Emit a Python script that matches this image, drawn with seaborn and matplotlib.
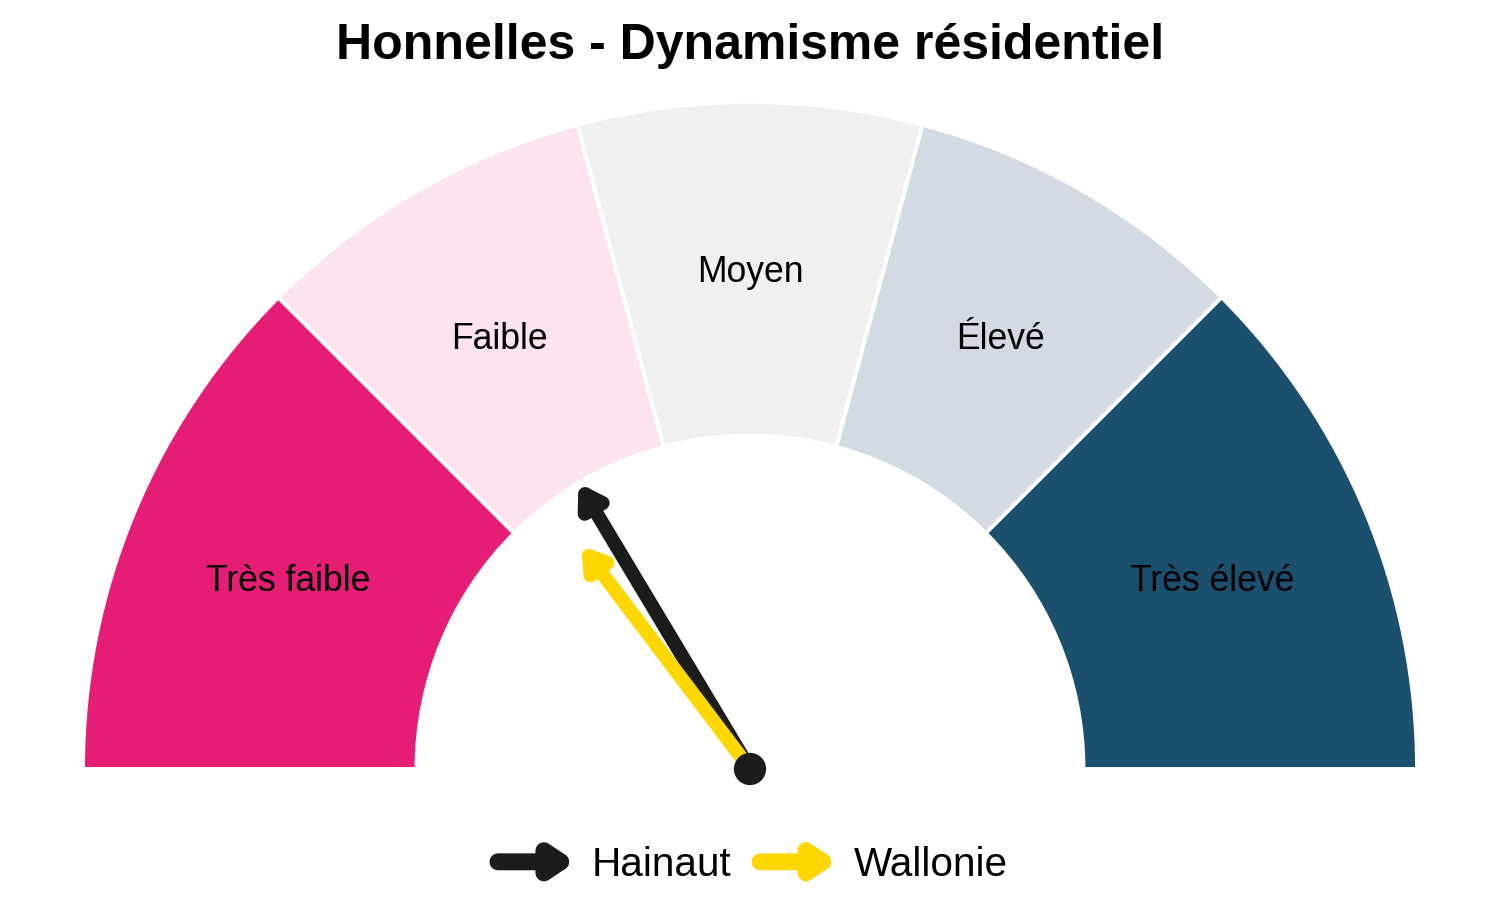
import numpy as np
import pandas as pd
import matplotlib
matplotlib.use("Agg")
import matplotlib.pyplot as plt
from matplotlib.patches import Wedge, FancyArrowPatch
from matplotlib.legend_handler import HandlerPatch
import seaborn as sns

# ---------------- data ----------------
title = "Honnelles - Dynamisme résidentiel"
categories = ["Très faible", "Faible", "Moyen", "Élevé", "Très élevé"]
category_limits = [0.0, 0.25, 0.4167, 0.5833, 0.75, 1.0]   # gauge scale 0..1 (left -> right)
category_colors = ["#E61D75", "#FBE3EF", "#F0F0F0", "#D3DAE3", "#1A4F6D"]
series = ["Hainaut", "Wallonie"]
series_values = [0.328, 0.294]
series_colors = ["#1C1C1C", "#FFD700"]

# ---------------- style ----------------
sns.set_theme(style="white")
plt.rcParams["font.family"] = ["Liberation Sans", "DejaVu Sans"]
plt.rcParams["text.color"] = "black"

fig = plt.figure(figsize=(7.5, 4.5), dpi=200)
ax = fig.add_axes([0, 0, 1, 1])
R_PX = 667.0
XLIM = (-750 / R_PX, 750 / R_PX)
YLIM = (-(900 - 769) / R_PX, 769 / R_PX)
ax.set_xlim(*XLIM)
ax.set_ylim(*YLIM)
ax.axis("off")

R_OUT, R_IN = 1.0, 0.5


def val2deg(v):
    return 180.0 * (1.0 - v)


df = pd.DataFrame({"cat": categories,
                   "lo": category_limits[:-1],
                   "hi": category_limits[1:],
                   "color": category_colors})

for _, row in df.iterrows():
    t1, t2 = val2deg(row["hi"]), val2deg(row["lo"])
    ax.add_patch(Wedge((0, 0), R_OUT, t1, t2, width=R_OUT - R_IN,
                       facecolor=row["color"], edgecolor="white", lw=1.4, zorder=1))
    mid = np.deg2rad((t1 + t2) / 2)
    rm = (R_OUT + R_IN) / 2
    ax.text(rm * np.cos(mid), rm * np.sin(mid), row["cat"], ha="center",
            va="center_baseline", fontsize=12.8, color="black", zorder=2)

needle_len = [0.5, 0.42]
for name, v, c, L in zip(series, series_values, series_colors, needle_len):
    a = np.deg2rad(val2deg(v))
    arr = FancyArrowPatch((0, 0), (L * np.cos(a), L * np.sin(a)),
                          arrowstyle="-|>,head_length=0.6,head_width=0.38",
                          mutation_scale=10, lw=5.0, color=c,
                          capstyle="round", joinstyle="round",
                          shrinkA=0, shrinkB=0, zorder=3, label=name)
    ax.add_patch(arr)

sns.scatterplot(x=[0.0], y=[0.0], s=135, color="#1C1C1C", edgecolor="none",
                ax=ax, zorder=5, legend=False)
ax.set_xlim(*XLIM)
ax.set_ylim(*YLIM)

fig.text(0.5, 1 - 59 / 900, title, ha="center", va="baseline",
         fontsize=18, fontweight="bold", color="black")


class HandlerArrow(HandlerPatch):
    def create_artists(self, legend, orig_handle, xdescent, ydescent,
                       width, height, fontsize, trans):
        y = -ydescent + height / 2
        lw = 6.1
        p = FancyArrowPatch((-xdescent + lw / 2 - 1.0, y),
                            (-xdescent + width - lw / 2 + 5.4, y),
                            arrowstyle="-|>,head_length=0.6,head_width=0.4",
                            mutation_scale=10, lw=lw,
                            color=orig_handle.get_edgecolor(),
                            capstyle="round", joinstyle="round",
                            shrinkA=0, shrinkB=0)
        p.set_transform(trans)
        return [p]


handles = [FancyArrowPatch((0, 0), (1, 0), color=c, label=n)
           for n, c in zip(series, series_colors)]
leg = fig.legend(handles=handles, labels=series, loc="center",
                 bbox_to_anchor=(0.5, 1 - 865 / 900), ncol=2, frameon=False,
                 fontsize=14.6, handlelength=1.9, handletextpad=0.55,
                 columnspacing=0.57, handler_map={FancyArrowPatch: HandlerArrow()})
for t in leg.get_texts():
    t.set_color("black")

fig.savefig("out.png", dpi=200, facecolor="white")
